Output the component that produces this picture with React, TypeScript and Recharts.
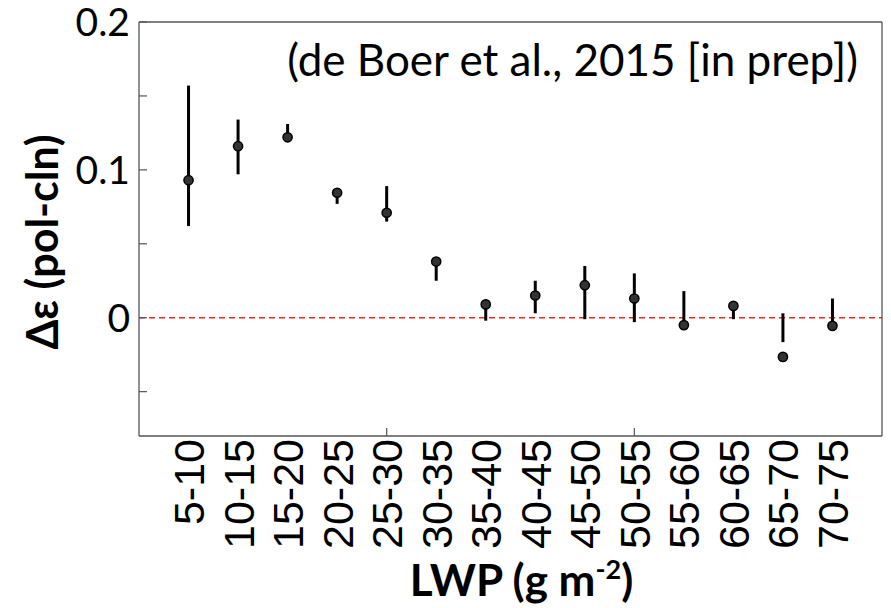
import React from "react";
import {
  ScatterChart,
  Scatter,
  XAxis,
  YAxis,
  ErrorBar,
  ReferenceLine,
  Label,
} from "recharts";

// LWP bins (g m-2)
const CATEGORIES = [
  "5-10", "10-15", "15-20", "20-25", "25-30", "30-35", "35-40",
  "40-45", "45-50", "50-55", "55-60", "60-65", "65-70", "70-75",
];
// Emissivity difference, polluted minus clean
const DELTA_EPS = [
  0.093, 0.116, 0.122, 0.0845, 0.071, 0.038, 0.009,
  0.015, 0.022, 0.013, -0.005, 0.008, -0.0265, -0.0055,
];
// Lower and upper ends of each uncertainty bar
const ERR_LOW = [
  0.062, 0.097, 0.121, 0.077, 0.065, 0.025, -0.002,
  0.003, -0.001, -0.003, -0.005, -0.001, -0.0165, -0.0055,
];
const ERR_HIGH = [
  0.157, 0.134, 0.131, 0.086, 0.089, 0.039, 0.01,
  0.025, 0.035, 0.03, 0.018, 0.009, 0.003, 0.013,
];

const Y_TICKS = [-0.05, 0, 0.05, 0.1, 0.15, 0.2];
const Y_LABELLED = [0, 0.1, 0.2];
const X_TICK_MARKS = [5, 10];
const X_POSITIONS = CATEGORIES.map((_, i) => i + 1);

const data = CATEGORIES.map((cat, i) => ({
  x: i + 1,
  cat,
  y: DELTA_EPS[i],
  err: [DELTA_EPS[i] - ERR_LOW[i], ERR_HIGH[i] - DELTA_EPS[i]],
}));

const FRAME = "#555";
const TICK_LEN = 8;
const SANS = "Lato, 'Open Sans', sans-serif";

const LeftTick = (props: any) => {
  const { x, y, payload } = props;
  const v = payload.value;
  const labelled = Y_LABELLED.some((t) => Math.abs(t - v) < 1e-9);
  return (
    <g>
      <line x1={x} x2={x + TICK_LEN} y1={y} y2={y} stroke={FRAME} strokeWidth={1.2} />
      {labelled && (
        <text
          x={x - 9}
          y={y}
          dy="0.36em"
          textAnchor="end"
          fontFamily={SANS}
          fontSize={39}
          fill="#000"
        >
          {String(v)}
        </text>
      )}
    </g>
  );
};

const RightTick = (props: any) => {
  const { x, y } = props;
  return <line x1={x} x2={x - TICK_LEN} y1={y} y2={y} stroke={FRAME} strokeWidth={1.2} />;
};

const TopTick = (props: any) => {
  const { x, y } = props;
  return <line x1={x} x2={x} y1={y} y2={y + TICK_LEN} stroke={FRAME} strokeWidth={1.2} />;
};

const BottomTick = (props: any) => {
  const { x, y, payload } = props;
  const idx = payload.value - 1;
  const marked = X_TICK_MARKS.includes(payload.value);
  return (
    <g>
      {marked && (
        <line x1={x} x2={x} y1={y} y2={y - TICK_LEN} stroke={FRAME} strokeWidth={1.2} />
      )}
      <text
        transform={`translate(${x},${y + 3}) rotate(-90)`}
        dy="0.36em"
        textAnchor="end"
        fontFamily="'Liberation Sans', Arial, sans-serif"
        fontSize={43}
        fill="#000"
      >
        {CATEGORIES[idx]}
      </text>
    </g>
  );
};

const Dot = (props: any) => {
  const { cx, cy } = props;
  return <circle cx={cx} cy={cy} r={4.6} fill="#333" stroke="#000" strokeWidth={1.5} />;
};

const XTitle = (props: any) => {
  const { viewBox } = props;
  const cx = viewBox.x + viewBox.width / 2 + 11;
  return (
    <text
      x={cx}
      y={596}
      textAnchor="middle"
      fontFamily={SANS}
      fontWeight={700}
      fontSize={44}
      fill="#000"
    >
      LWP (g m
      <tspan dy={-17} fontSize={27}>-2</tspan>
      <tspan dy={17}>)</tspan>
    </text>
  );
};

const YTitle = (props: any) => {
  const { viewBox } = props;
  const cy = viewBox.y + viewBox.height / 2 + 13;
  return (
    <text
      transform={`translate(58,${cy}) rotate(-90)`}
      textAnchor="middle"
      fontFamily={SANS}
      fontWeight={700}
      fontSize={43}
      fill="#000"
    >
      Δε (pol-cln)
    </text>
  );
};

export default function App() {
  return (
    <div
      style={{
        position: "absolute",
        left: 0,
        top: 0,
        width: 891,
        height: 608,
        background: "#fff",
      }}
    >
      <ScatterChart width={891} height={608} margin={{ top: 0, right: 0, bottom: 0, left: 0 }}>
        <XAxis
          xAxisId={0}
          dataKey="x"
          type="number"
          domain={[0, 15]}
          ticks={X_POSITIONS}
          interval={0}
          height={172}
          tickSize={0}
          tickMargin={0}
          tickLine={false}
          axisLine={{ stroke: FRAME, strokeWidth: 1.3 }}
          tick={<BottomTick />}
        >
          <Label content={<XTitle />} />
        </XAxis>
        <XAxis
          xAxisId="top"
          orientation="top"
          type="number"
          domain={[0, 15]}
          ticks={X_TICK_MARKS}
          height={22}
          tickSize={0}
          tickMargin={0}
          tickLine={false}
          axisLine={{ stroke: FRAME, strokeWidth: 1.3 }}
          tick={<TopTick />}
        />
        <YAxis
          yAxisId={0}
          type="number"
          domain={[-0.08, 0.2]}
          ticks={Y_TICKS}
          interval={0}
          width={139}
          tickSize={0}
          tickMargin={0}
          tickLine={false}
          axisLine={{ stroke: FRAME, strokeWidth: 1.3 }}
          tick={<LeftTick />}
        >
          <Label content={<YTitle />} />
        </YAxis>
        <YAxis
          yAxisId="right"
          orientation="right"
          type="number"
          domain={[-0.08, 0.2]}
          ticks={Y_TICKS}
          interval={0}
          width={9}
          tickSize={0}
          tickMargin={0}
          tickLine={false}
          axisLine={{ stroke: FRAME, strokeWidth: 1.3 }}
          tick={<RightTick />}
        />
        <ReferenceLine
          y={0}
          stroke="#ee2a22"
          strokeWidth={1.5}
          strokeDasharray="6 4"
        />
        <Scatter data={data} dataKey="y" shape={<Dot />} isAnimationActive={false}>
          <ErrorBar
            dataKey="err"
            direction="y"
            width={0}
            stroke="#000"
            strokeWidth={3}
            isAnimationActive={false}
          />
        </Scatter>
      </ScatterChart>
      <svg
        width={891}
        height={608}
        style={{ position: "absolute", left: 0, top: 0, pointerEvents: "none" }}
      >
        <text
          x={858}
          y={76}
          textAnchor="end"
          fontFamily={SANS}
          fontSize={44}
          fill="#000"
        >
          (de Boer et al., 2015 [in prep])
        </text>
      </svg>
    </div>
  );
}
